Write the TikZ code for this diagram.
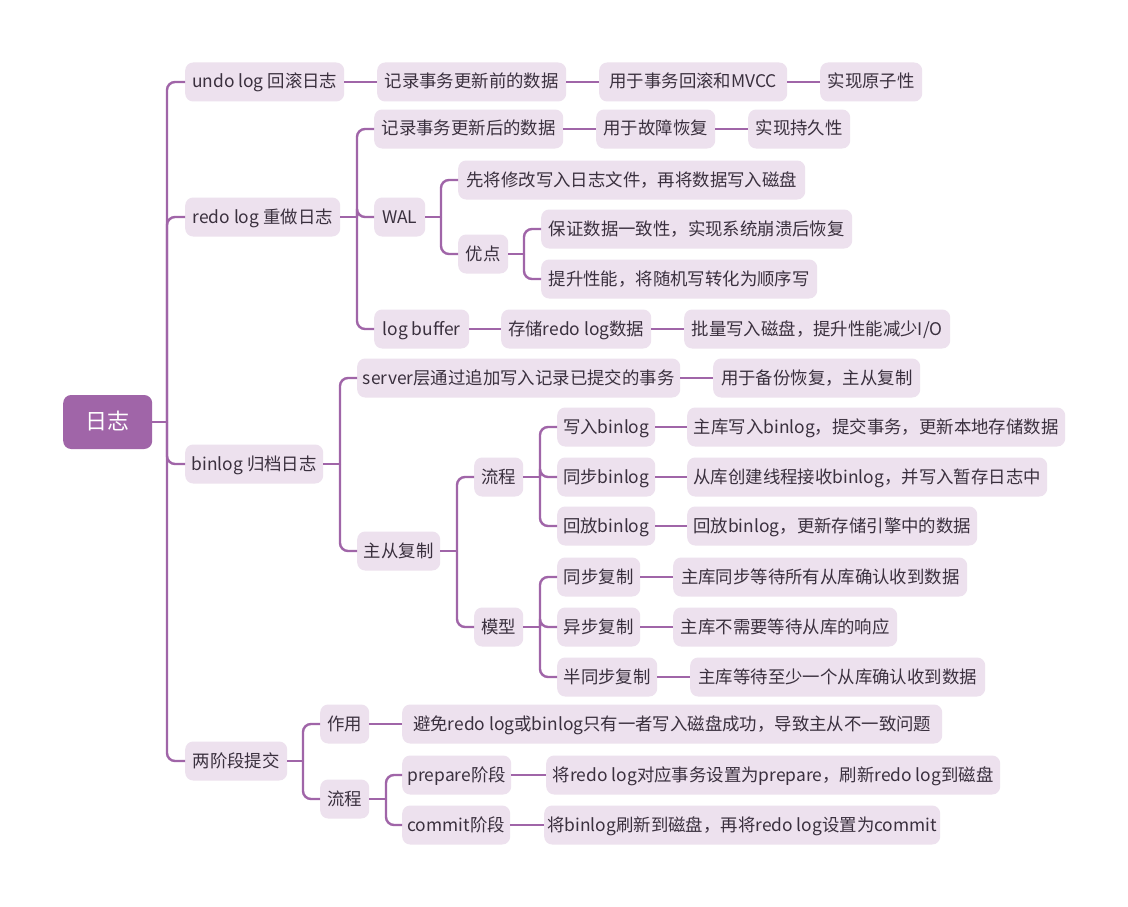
\documentclass[tikz,border=0pt]{standalone}
\usepackage{fontspec}
\setmainfont{Noto Sans CJK SC}
\definecolor{boxc}{RGB}{237,225,238}
\definecolor{rootc}{RGB}{160,101,168}
\definecolor{linec}{RGB}{160,101,168}
\definecolor{txt}{RGB}{58,48,62}
\tikzset{
  box/.style={rectangle, rounded corners=8pt, fill=boxc, minimum height=39pt, inner sep=0pt, text=txt, anchor=west, font=\fontsize{17.4}{20}\selectfont, text height=14pt, text depth=2pt},
  rootbox/.style={rectangle, rounded corners=8pt, fill=rootc, minimum height=54pt, minimum width=89pt, inner sep=0pt, text=white, anchor=west, font=\fontsize{22}{26}\selectfont, text height=17.5pt, text depth=2.5pt},
  conn/.style={draw=linec, line width=2.4pt},
  elbow/.style={draw=linec, line width=2.4pt, rounded corners=8pt},
}
\begin{document}
\begin{tikzpicture}[x=1pt,y=-1pt]
\useasboundingbox (0,0) rectangle (1128,907);
\fill[white] (0,0) rectangle (1128,907);
% nodes
\node[rootbox] (root) at (63,422) {日志};
\node[box, minimum width=159pt] (undo) at (185,82) {undo log 回滚日志};
\node[box, minimum width=155pt] (redo) at (185,217) {redo log 重做日志};
\node[box, minimum width=138pt] (binlog) at (185,464) {binlog 归档日志};
\node[box, minimum width=102pt] (tp) at (185,761) {两阶段提交};
\node[box, minimum width=189pt] (u1) at (377,82) {记录事务更新前的数据};
\node[box, minimum width=188pt] (u2) at (599,82) {用于事务回滚和MVCC};
\node[box, minimum width=102pt] (u3) at (820,82) {实现原子性};
\node[box, minimum width=189pt] (r1) at (374,129) {记录事务更新后的数据};
\node[box, minimum width=119pt] (r1a) at (596,129) {用于故障恢复};
\node[box, minimum width=102pt] (r1b) at (748,129) {实现持久性};
\node[box, minimum width=51pt] (wal) at (374,217) {WAL};
\node[box, minimum width=347pt] (walA) at (458,180) {先将修改写入日志文件，再将数据写入磁盘};
\node[box, minimum width=50pt] (walB) at (458,254) {优点};
\node[box, minimum width=311pt] (walB1) at (541,229) {保证数据一致性，实现系统崩溃后恢复};
\node[box, minimum width=276pt] (walB2) at (541,279) {提升性能，将随机写转化为顺序写};
\node[box, minimum width=95pt] (lb) at (374,329) {log buffer};
\node[box, minimum width=150pt] (lb1) at (501,329) {存储redo log数据};
\node[box, minimum width=266pt] (lb2) at (684,329) {批量写入磁盘，提升性能减少I/O};
\node[box, minimum width=323pt] (b1) at (357,378) {server层通过追加写入记录已提交的事务};
\node[box, minimum width=207pt] (b1a) at (713,378) {用于备份恢复，主从复制};
\node[box, minimum width=83pt] (ms) at (357,551) {主从复制};
\node[box, minimum width=49pt] (flow) at (474,477) {流程};
\node[box, minimum width=98pt] (f1) at (557,427) {写入binlog};
\node[box, minimum width=378pt] (f1a) at (687,427) {主库写入binlog，提交事务，更新本地存储数据};
\node[box, minimum width=98pt] (f2) at (557,477) {同步binlog};
\node[box, minimum width=360pt] (f2a) at (687,477) {从库创建线程接收binlog，并写入暂存日志中};
\node[box, minimum width=98pt] (f3) at (557,526) {回放binlog};
\node[box, minimum width=290pt] (f3a) at (687,526) {回放binlog，更新存储引擎中的数据};
\node[box, minimum width=49pt] (model) at (474,627) {模型};
\node[box, minimum width=83pt] (m1) at (557,577) {同步复制};
\node[box, minimum width=294pt] (m1a) at (673,577) {主库同步等待所有从库确认收到数据};
\node[box, minimum width=83pt] (m2) at (557,627) {异步复制};
\node[box, minimum width=224pt] (m2a) at (673,627) {主库不需要等待从库的响应};
\node[box, minimum width=100pt] (m3) at (557,677) {半同步复制};
\node[box, minimum width=295pt] (m3a) at (690,677) {主库等待至少一个从库确认收到数据};
\node[box, minimum width=49pt] (t1) at (320,724) {作用};
\node[box, minimum width=540pt] (t1a) at (402,724) {避免redo log或binlog只有一者写入磁盘成功，导致主从不一致问题};
\node[box, minimum width=49pt] (t2) at (320,799) {流程};
\node[box, minimum width=109pt] (t2a) at (402,775) {prepare阶段};
\node[box, minimum width=454pt] (t2aa) at (546,775) {将redo log对应事务设置为prepare，刷新redo log到磁盘};
\node[box, minimum width=108pt] (t2b) at (402,825) {commit阶段};
\node[box, minimum width=396pt] (t2ba) at (544,825) {将binlog刷新到磁盘，再将redo log设置为commit};
% branch points
\coordinate (jRoot) at (167,422);
\coordinate (jRedo) at (357,217);
\coordinate (jWal) at (441,217);
\coordinate (jAdv) at (524,254);
\coordinate (jBin) at (340,464);
\coordinate (jMs) at (457,551);
\coordinate (jFlow) at (540,477);
\coordinate (jModel) at (540,627);
\coordinate (jTp) at (303,761);
\coordinate (jT2) at (386,799);
% root
\draw[conn] (root.east) -- (jRoot);
\foreach \c in {undo,redo,binlog,tp} \draw[elbow] (jRoot) |- (\c.west);
% undo chain
\draw[conn] (undo.east) -- (u1.west);
\draw[conn] (u1.east) -- (u2.west);
\draw[conn] (u2.east) -- (u3.west);
% redo
\draw[conn] (redo.east) -- (jRedo);
\foreach \c in {r1,wal,lb} \draw[elbow] (jRedo) |- (\c.west);
\draw[conn] (r1.east) -- (r1a.west);
\draw[conn] (r1a.east) -- (r1b.west);
\draw[conn] (wal.east) -- (jWal);
\foreach \c in {walA,walB} \draw[elbow] (jWal) |- (\c.west);
\draw[conn] (walB.east) -- (jAdv);
\foreach \c in {walB1,walB2} \draw[elbow] (jAdv) |- (\c.west);
\draw[conn] (lb.east) -- (lb1.west);
\draw[conn] (lb1.east) -- (lb2.west);
% binlog
\draw[conn] (binlog.east) -- (jBin);
\foreach \c in {b1,ms} \draw[elbow] (jBin) |- (\c.west);
\draw[conn] (b1.east) -- (b1a.west);
\draw[conn] (ms.east) -- (jMs);
\foreach \c in {flow,model} \draw[elbow] (jMs) |- (\c.west);
\draw[conn] (flow.east) -- (jFlow);
\foreach \c in {f1,f2,f3} \draw[elbow] (jFlow) |- (\c.west);
\draw[conn] (f1.east) -- (f1a.west);
\draw[conn] (f2.east) -- (f2a.west);
\draw[conn] (f3.east) -- (f3a.west);
\draw[conn] (model.east) -- (jModel);
\foreach \c in {m1,m2,m3} \draw[elbow] (jModel) |- (\c.west);
\draw[conn] (m1.east) -- (m1a.west);
\draw[conn] (m2.east) -- (m2a.west);
\draw[conn] (m3.east) -- (m3a.west);
% two-phase
\draw[conn] (tp.east) -- (jTp);
\foreach \c in {t1,t2} \draw[elbow] (jTp) |- (\c.west);
\draw[conn] (t1.east) -- (t1a.west);
\draw[conn] (t2.east) -- (jT2);
\foreach \c in {t2a,t2b} \draw[elbow] (jT2) |- (\c.west);
\draw[conn] (t2a.east) -- (t2aa.west);
\draw[conn] (t2b.east) -- (t2ba.west);
\end{tikzpicture}
\end{document}
